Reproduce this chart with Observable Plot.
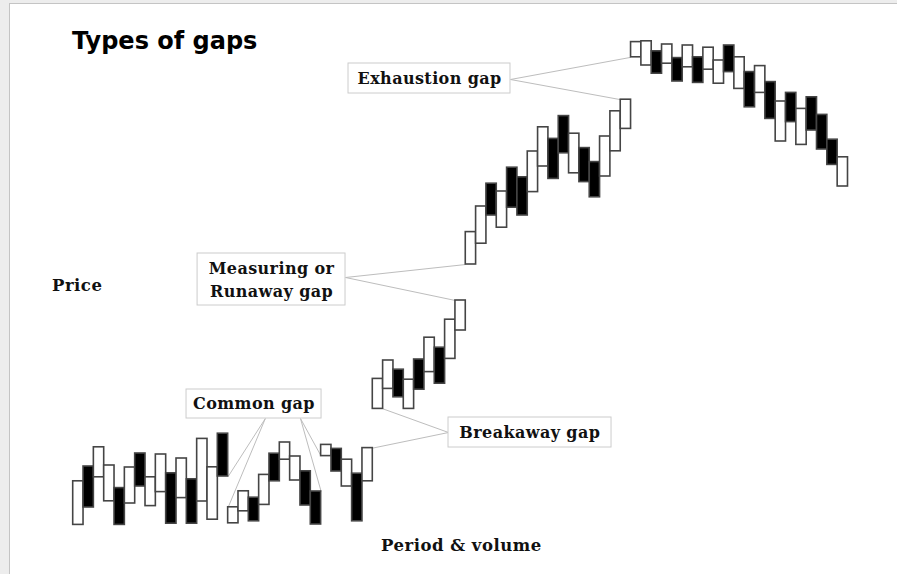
<!DOCTYPE html>
<html>
<head>
<meta charset="utf-8">
<script src="https://cdn.jsdelivr.net/npm/d3@7"></script>
<script src="https://cdn.jsdelivr.net/npm/@observablehq/plot@0.6"></script>
<style>
  html, body { margin: 0; padding: 0; background: #ededed; }
  #page { position: relative; width: 897px; height: 574px; background: #ededed; overflow: hidden; }
  #panel { position: absolute; left: 9px; top: 3px; right: 0; bottom: 0; background: #fff;
           border-left: 1px solid #c4c4c4; border-top: 1px solid #c4c4c4; }
  #chart { position: absolute; left: 0; top: 0; }
  #chart text { letter-spacing: 0.4px; }
  .lbl { position: absolute; font-family: "DejaVu Serif", serif; font-weight: bold; font-size: 16.5px; letter-spacing: 0.5px; color: #111; white-space: nowrap; }
  #title { position: absolute; left: 72px; top: 27px; font-family: "DejaVu Sans", sans-serif; font-weight: bold; font-size: 24px; color: #000; }
</style>
</head>
<body>
<div id="page">
  <div id="panel"></div>
  <div id="chart"></div>
  <div id="title">Types of gaps</div>
  <div class="lbl" id="ylab" style="left:52px; top:276px;">Price</div>
  <div class="lbl" id="xlab" style="left:381px; top:536px;">Period &amp; volume</div>
</div>
<script>
// Candle bodies (no wicks): open and close prices per period
const opens = [
  3.9, 18.5, 15.8, 9.8, 13.1, 9.25, 21.75, 8.6, 12.1, 16.8,
  10.6, 15.3, 9.75, 5.2, 26.7, 4.3, 7.3, 10.7, 8.9, 21.7,
  20.2, 15, 17.3, 12.25, 21.1, 22.9, 13.5, 16.7, 14.8, 32.9,
  37.9, 42.7, 32.9, 45.25, 42.1, 48.2, 45.4, 52.5, 69, 74.2,
  89.2, 78.2, 93.2, 90.8, 87.1, 93.5, 100.4, 106.1, 91.8, 98.1,
  94.6, 91, 97.3, 102.9, 120.8, 118.75, 122.3, 119.2, 120.6, 118.3,
  120.8, 117.7, 114.2, 123.75, 112.9, 117.1, 111.9, 114.6, 99.75, 111.9,
  98.9, 110.8, 106.4, 100.2, 88.5
];
const closes = [
  14.8, 8.25, 23.3, 18.75, 3.9, 18.25, 13.5, 15.8, 21.5, 4.2,
  20.5, 4.2, 25.4, 18.3, 16, 8.3, 12.3, 4.8, 16.4, 14.8,
  24.5, 21, 8.75, 4, 23.9, 17.25, 20.2, 4.8, 23.1, 40.4,
  45, 35.8, 40.2, 37.7, 50.7, 39.2, 55.2, 60, 77.1, 83.5,
  81.25, 87.25, 83.2, 81.25, 97.25, 103.3, 90.4, 96.8, 101.7, 89.6,
  85.8, 101, 107.3, 110.2, 124.6, 124.8, 116.7, 124, 114.75, 123.75,
  114.4, 123.2, 120, 117.1, 120.8, 108.3, 118.6, 105.4, 109.75, 104.6,
  107.9, 102.5, 97.75, 93.9, 95.8
];

// Gap annotations: label text, box (period index / price units), text anchor
const labels = ["Common gap", "Breakaway gap", "Measuring or\nRunaway gap", "Exhaustion gap"];
const boxX1 = [10.97, 36.33, 12.04, 26.65];
const boxX2 = [24.04, 52.11, 26.36, 42.33];
const boxY1 = [30.5, 23.25, 58.75, 111.75];
const boxY2 = [37.75, 30.75, 71.75, 119.25];
const textX = [17.5, 44.2, 19.2, 34.5];
const textY = [34.7, 27.6, 65.6, 116.1];

// leader lines from the label boxes to the gap edges
const leaderFromX = [18.6, 18.6, 22.0, 22.0, 36.33, 36.33, 26.36, 26.36, 42.33, 42.33];
const leaderFromY = [30.5, 30.5, 30.5, 30.5, 27, 27, 65.75, 65.75, 115.25, 115.25];
const leaderToX   = [15, 15, 24, 24, 29, 30, 38, 37, 54, 53];
const leaderToY   = [16, 8.3, 12.25, 21.1, 23.1, 32.9, 69, 60, 120.8, 110.2];

const bars = opens.map((o, i) => ({i, open: o, close: closes[i]}));
const boxes = labels.map((t, k) => ({t, x1: boxX1[k], x2: boxX2[k], y1: boxY1[k], y2: boxY2[k], x: textX[k], y: textY[k]}));
const leaders = leaderFromX.map((x, k) => ({x1: x, y1: leaderFromY[k], x2: leaderToX[k], y2: leaderToY[k]}));

const chart = Plot.plot({
  width: 897,
  height: 574,
  margin: 0,
  x: {domain: [0, 75], range: [72.7, 847.5], axis: null},
  y: {domain: [0, 125], range: [540, 40], axis: null},
  style: {background: "transparent", overflow: "visible"},
  marks: [
    Plot.link(leaders, {x1: "x1", y1: "y1", x2: "x2", y2: "y2", stroke: "#bdbdbd", strokeWidth: 1}),
    Plot.rect(bars, {
      x1: "i", x2: d => d.i + 1, y1: "open", y2: "close",
      fill: d => d.close >= d.open ? "#fff" : "#000",
      stroke: "#454545", strokeWidth: 1.6
    }),
    Plot.rect(boxes, {x1: "x1", x2: "x2", y1: "y1", y2: "y2", fill: "#fff", stroke: "#cccccc", strokeWidth: 1}),
    Plot.text(boxes, {
      x: "x", y: "y", text: "t", fontFamily: "DejaVu Serif", fontWeight: "bold",
      fontSize: 16, fill: "#111", lineHeight: 1.45
    })
  ]
});
document.getElementById("chart").appendChild(chart);
</script>
</body>
</html>
